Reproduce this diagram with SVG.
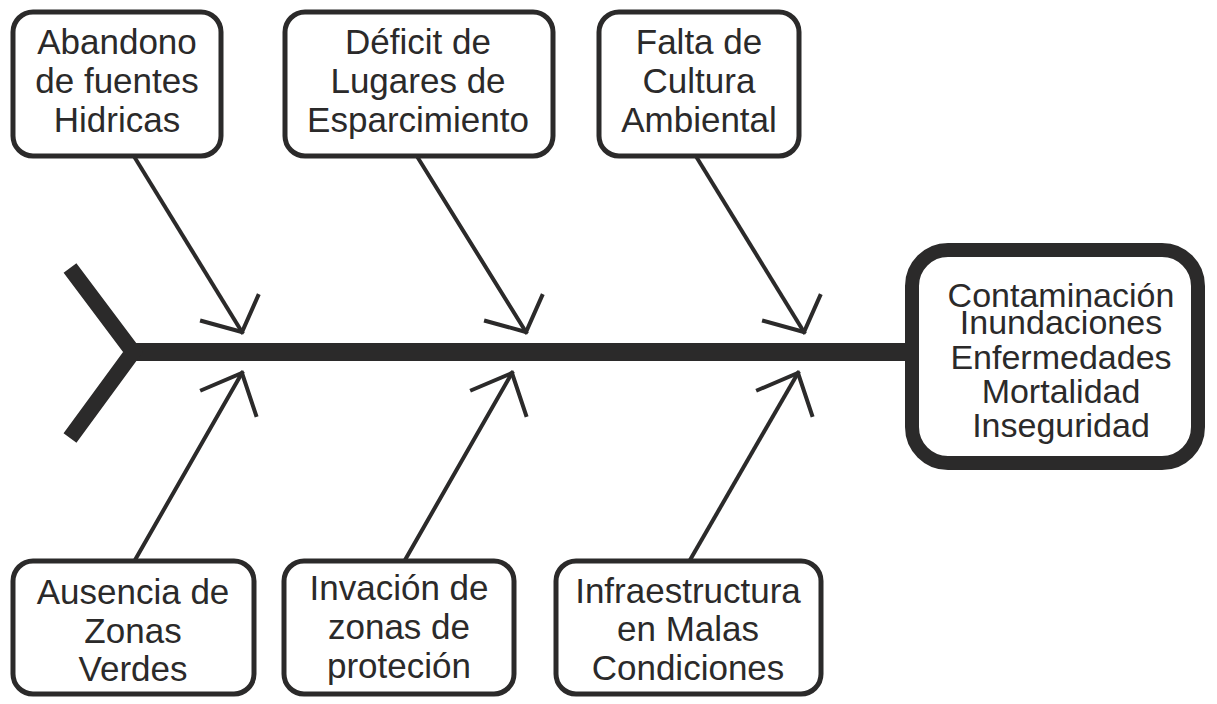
<svg xmlns="http://www.w3.org/2000/svg" width="1217" height="704" viewBox="0 0 1217 704">
<defs>
<style>
.box{fill:#fff;stroke:#2b2a2a;stroke-width:5}
.big{fill:#fff;stroke:#2b2a2a;stroke-width:14}
.t{font-family:"Liberation Sans",Arial,sans-serif;font-size:35px;fill:#2b2a2a;text-anchor:middle}
.r{font-size:34px}
.c{stroke:#2b2a2a;stroke-width:4;fill:none;stroke-linecap:square}
.sp{stroke:#2b2a2a;fill:none}
</style>
</defs>
<rect width="1217" height="704" fill="#fff"/>
<g id="connectors">
<line class="sp" x1="128" y1="352" x2="910" y2="352" stroke-width="18"/>
<polyline class="sp" points="70,268 133,352 70,438" stroke-width="16"/>
<line class="c" x1="135" y1="158" x2="242" y2="332"/>
<polyline class="c" points="202,321 242,332 258,296"/>
<line class="c" x1="418" y1="158" x2="526" y2="332"/>
<polyline class="c" points="486,321 526,332 542,296"/>
<line class="c" x1="697" y1="158" x2="804" y2="332"/>
<polyline class="c" points="764,321 804,332 820,296"/>
<line class="c" x1="135" y1="560" x2="242" y2="373"/>
<polyline class="c" points="202,390 242,373 256,415"/>
<line class="c" x1="405" y1="560" x2="512" y2="373"/>
<polyline class="c" points="472,390 512,373 526,415"/>
<line class="c" x1="690" y1="560" x2="798" y2="373"/>
<polyline class="c" points="758,390 798,373 812,415"/>
</g>
<g id="n1"><rect class="box" x="13" y="12" width="208" height="144" rx="20"/>
<text class="t" x="117" y="54">Abandono</text><text class="t" x="117" y="93">de fuentes</text><text class="t" x="117" y="132">Hidricas</text></g>
<g id="n2"><rect class="box" x="285" y="12" width="268" height="144" rx="20"/>
<text class="t" x="418" y="54">Déficit de</text><text class="t" x="418" y="93">Lugares de</text><text class="t" x="418" y="132">Esparcimiento</text></g>
<g id="n3"><rect class="box" x="599" y="12" width="200" height="144" rx="20"/>
<text class="t" x="699" y="54">Falta de</text><text class="t" x="699" y="93">Cultura</text><text class="t" x="699" y="132">Ambiental</text></g>
<g id="n4"><rect class="box" x="13" y="561" width="241" height="133" rx="20"/>
<text class="t" x="133" y="604">Ausencia de</text><text class="t" x="133" y="643">Zonas</text><text class="t" x="133" y="681">Verdes</text></g>
<g id="n5"><rect class="box" x="284" y="561" width="230" height="133" rx="20"/>
<text class="t" x="399" y="600">Invación de</text><text class="t" x="399" y="639">zonas de</text><text class="t" x="399" y="678">proteción</text></g>
<g id="n6"><rect class="box" x="556" y="561" width="265" height="133" rx="20"/>
<text class="t" x="688" y="603">Infraestructura</text><text class="t" x="688" y="641">en Malas</text><text class="t" x="688" y="680">Condiciones</text></g>
<g id="n7"><rect class="big" x="912" y="250" width="286" height="213" rx="36"/>
<text class="t r" x="1061" y="307">Contaminación</text><text class="t r" x="1061" y="334">Inundaciones</text><text class="t r" x="1061" y="369">Enfermedades</text><text class="t r" x="1061" y="403">Mortalidad</text><text class="t r" x="1061" y="437">Inseguridad</text></g>
</svg>
